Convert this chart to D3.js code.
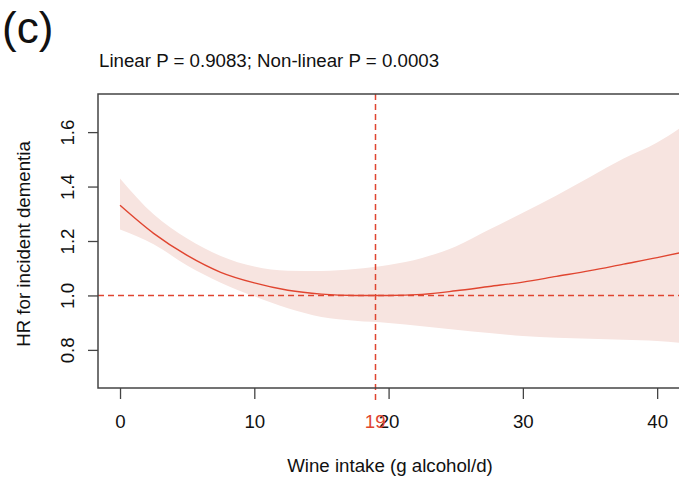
<!DOCTYPE html>
<html>
<head>
<meta charset="utf-8">
<script src="https://cdn.jsdelivr.net/npm/d3@7"></script>
<style>
  body { margin: 0; background: #fff; }
  svg { display: block; font-family: "Liberation Sans", Arial, sans-serif; }
</style>
</head>
<body>
<svg id="chart" width="679" height="478"></svg>
<script>
// wine intake (g alcohol/d) and spline estimates
const intake = [0, 2.5, 5, 7.5, 10, 12.5, 15, 17.5, 20, 22.5, 25, 27.5, 30, 32.5, 35, 37.5, 40, 42];
const hr     = [1.331, 1.228, 1.147, 1.085, 1.046, 1.019, 1.005, 1.000, 1.000, 1.004, 1.017, 1.033, 1.049, 1.070, 1.091, 1.115, 1.139, 1.160];
const upper  = [1.430, 1.298, 1.209, 1.145, 1.106, 1.091, 1.090, 1.097, 1.112, 1.138, 1.180, 1.242, 1.304, 1.367, 1.435, 1.503, 1.562, 1.625];
const lower  = [1.242, 1.188, 1.110, 1.047, 0.997, 0.953, 0.921, 0.907, 0.899, 0.887, 0.874, 0.862, 0.851, 0.845, 0.841, 0.837, 0.833, 0.824];

const xTicks = [0, 10, 20, 30, 40];
const yTicks = [0.8, 1.0, 1.2, 1.4, 1.6];
const refX = 19;
const refY = 1.0;

const RED = "#e04530";
const BAND = "#f7e4e0";
const AXIS = "#444";
const FS = "18.7px";

const svg = d3.select("#chart");

// R-style usr limits (4% padding)
const x = d3.scaleLinear().domain([-1.64, 42.64]).range([98, 692.6]);
const y = d3.scaleLinear().domain([0.66, 1.74]).range([388, 94]);

const data = intake.map((d, i) => ({x: d, hr: hr[i], lo: lower[i], hi: upper[i]}));

svg.append("defs").append("clipPath").attr("id", "plotclip")
   .append("rect").attr("x", 98).attr("y", 94).attr("width", 594.6).attr("height", 294);

const plot = svg.append("g").attr("clip-path", "url(#plotclip)");

plot.append("path")
    .datum(data)
    .attr("fill", BAND)
    .attr("d", d3.area().x(d => x(d.x)).y0(d => y(d.lo)).y1(d => y(d.hi)).curve(d3.curveMonotoneX));

const yRef = Math.round(y(refY)) + 0.5;
plot.append("line")
    .attr("x1", 98).attr("x2", 692.6)
    .attr("y1", yRef).attr("y2", yRef)
    .attr("stroke", RED).attr("stroke-width", 1.5).attr("stroke-dasharray", "6,4");

plot.append("path")
    .datum(data)
    .attr("fill", "none")
    .attr("stroke", RED)
    .attr("stroke-width", 1.4)
    .attr("d", d3.line().x(d => x(d.x)).y(d => y(d.hr)).curve(d3.curveMonotoneX));

// vertical reference line at the nadir
const xRef = Math.round(x(refX)) + 0.5;
svg.append("line")
   .attr("x1", xRef).attr("x2", xRef)
   .attr("y1", 94).attr("y2", 400)
   .attr("stroke", RED).attr("stroke-width", 1.5).attr("stroke-dasharray", "6,4");

// box
svg.append("rect")
   .attr("x", 98).attr("y", 94).attr("width", 594.6).attr("height", 294)
   .attr("fill", "none").attr("stroke", AXIS).attr("stroke-width", 1.5);

// x axis
const xAxis = svg.append("g")
   .attr("transform", "translate(0,388)")
   .call(d3.axisBottom(x).tickValues(xTicks).tickSize(11).tickPadding(16).tickFormat(d3.format("d")));
xAxis.select(".domain").remove();
xAxis.selectAll(".tick line").attr("stroke", AXIS).attr("stroke-width", 1.3);
xAxis.selectAll(".tick text").attr("fill", "#111").style("font-size", FS).style("font-family", "Liberation Sans, Arial, sans-serif");

svg.append("text")
   .attr("x", x(refX)).attr("y", 415)
   .attr("dy", "0.71em")
   .attr("text-anchor", "middle")
   .attr("fill", RED)
   .style("font-size", FS)
   .text(refX);

// y axis
const yAxis = svg.append("g")
   .attr("transform", "translate(98,0)")
   .call(d3.axisLeft(y).tickValues(yTicks).tickSize(10).tickFormat(d3.format(".1f")));
yAxis.select(".domain").remove();
yAxis.selectAll(".tick line").attr("stroke", AXIS).attr("stroke-width", 1.3);
yAxis.selectAll(".tick text")
     .attr("fill", "#111")
     .attr("x", 0)
     .attr("text-anchor", "middle")
     .attr("transform", "translate(-24,0) rotate(-90)")
     .attr("dy", "0em")
     .style("font-size", FS)
     .style("font-family", "Liberation Sans, Arial, sans-serif");

// labels
svg.append("text")
   .attr("transform", "translate(30,244) rotate(-90)")
   .attr("text-anchor", "middle")
   .attr("fill", "#111")
   .style("font-size", FS)
   .text("HR for incident dementia");

svg.append("text")
   .attr("x", 390).attr("y", 472)
   .attr("text-anchor", "middle")
   .attr("fill", "#111")
   .style("font-size", FS)
   .text("Wine intake (g alcohol/d)");

svg.append("text")
   .attr("x", 99).attr("y", 67)
   .attr("fill", "#111")
   .style("font-size", FS)
   .text("Linear P = 0.9083; Non-linear P = 0.0003");

svg.append("text")
   .attr("x", 2).attr("y", 43)
   .attr("fill", "#111")
   .style("font-size", "44px")
   .text("(c)");
</script>
</body>
</html>
